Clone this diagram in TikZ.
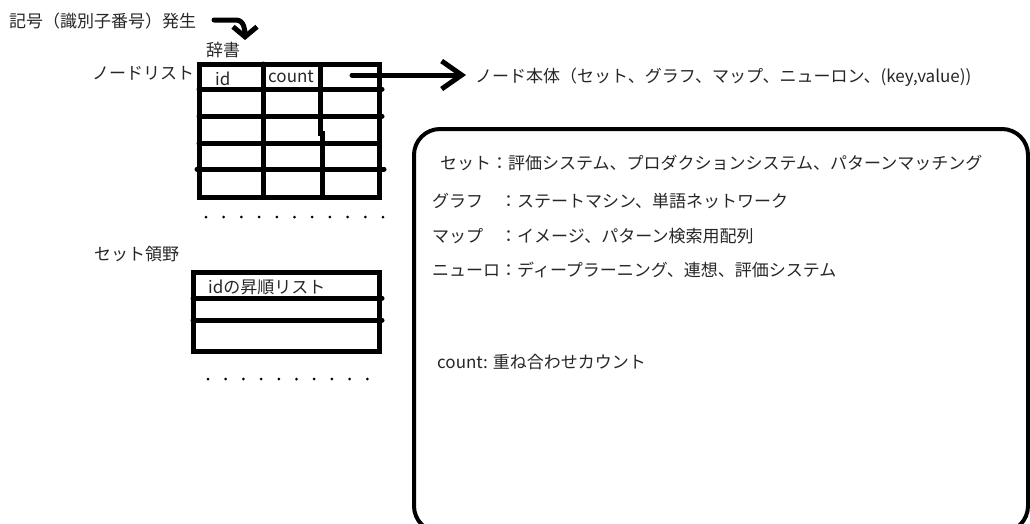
\documentclass[tikz,border=0pt]{standalone}
\usepackage{fontspec}
\setmainfont{Noto Sans CJK JP}
\usetikzlibrary{arrows.meta}
\begin{document}
\begin{tikzpicture}[x=1pt,y=-1pt,
  txt/.style={anchor=west,inner sep=0pt,font=\fontsize{17}{20}\selectfont,text=black!85},
  heavy/.style={line width=5pt},
  grid/.style={line width=5pt,line cap=round},
  boxline/.style={line width=4pt,rounded corners=26pt},
  dot/.style={circle,fill=black,inner sep=0pt,minimum size=3pt},
  barb/.style={-{Straight Barb[length=20pt,width=28pt]}}]
\useasboundingbox (0,0) rectangle (1030,523);
\clip (0,0) rectangle (1030,523);
% labels
\node[txt] (gen) at (9,21) {記号（識別子番号）発生};
\node[txt] (dict) at (206,50) {辞書};
\node[txt] (nlist) at (92,73) {ノードリスト};
\node[txt] (body) at (475,77) {ノード本体（セット、グラフ、マップ、ニューロン、(key,value))};
\node[txt] (setarea) at (94,254) {セット領野};
% arrow from generator to dictionary
\coordinate (g0) at (214,20);
\coordinate (g1) at (245,40);
\draw[heavy,line cap=round,-{Straight Barb[length=10pt,width=24pt]}] (g0) -- (236,20) to[out=0,in=90] (g1);
% node list table
\draw[heavy] (199,64) rectangle (379,197);
\draw[grid] (199,89) -- (382,89);
\draw[grid] (199,116) -- (382,116);
\draw[grid] (199,143) -- (379,143);
\draw[grid] (197,169) -- (384,169);
\draw[grid] (263,64) -- (263,197);
\draw[heavy] (320,64) -- (320,133) -- (322,133) -- (322,197);
\node[txt] (idl) at (215,79) {id};
\node[txt] (cnt) at (268,77) {count};
\foreach \i in {0,...,10} \node[dot] (d\i) at (206+17.7*\i,217) {};
% arrow to node body
\coordinate (a0) at (352,75);
\coordinate (a1) at (466,75);
\draw[heavy,line cap=round,barb] (a0) -- (a1);
% set area table
\draw[heavy] (193,272) rectangle (379,351);
\draw[grid] (193,298) -- (382,298);
\draw[grid] (193,320) -- (382,320);
\node[txt] (asc) at (208,287) {idの昇順リスト};
\foreach \i in {0,...,9} \node[dot] (e\i) at (208+17.7*\i,379) {};
% explanation box
\draw[boxline] (414,129) rectangle (1028,532);
\node[txt] (l1) at (440,163) {セット：評価システム、プロダクションシステム、パターンマッチング};
\node[txt] (l2) at (432,201) {グラフ　：ステートマシン、単語ネットワーク};
\node[txt] (l3) at (432,236) {マップ　：イメージ、パターン検索用配列};
\node[txt] (l4) at (432,270) {ニューロ：ディープラーニング、連想、評価システム};
\node[txt] (l5) at (437,362) {count: 重ね合わせカウント};
\end{tikzpicture}
\end{document}
